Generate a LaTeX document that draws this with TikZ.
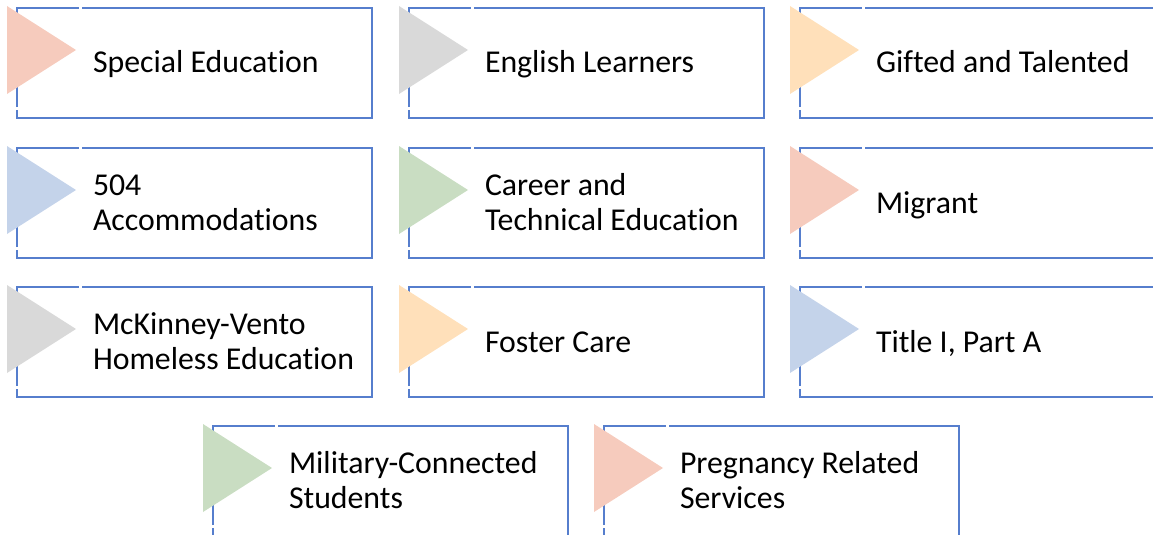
\documentclass[tikz,border=0pt]{standalone}
\usepackage{fontspec}
\setmainfont{Carlito}[Ligatures=NoCommon]
\usetikzlibrary{calc}

\definecolor{trisalmon}{RGB}{246,203,189}
\definecolor{trigray}{RGB}{217,217,217}
\definecolor{tripeach}{RGB}{255,224,186}
\definecolor{triblue}{RGB}{196,211,234}
\definecolor{trigreen}{RGB}{201,221,194}
\definecolor{frameblue}{RGB}{86,126,205}

\tikzset{
  slot/.style={rectangle, minimum width=355pt, minimum height=110pt, inner sep=0pt, outer sep=0pt},
  frame/.style={draw=frameblue, line width=1.1pt},
  caption/.style={inner sep=0pt, outer sep=0pt, font=\fontsize{31.8}{35}\selectfont, text=black},
}

% #1 name, #2 left, #3 top, #4 chevron colour, #5 text, #6 offset of the first baseline
\newcommand\program[6]{%
  \node[slot] (#1) at (#2+177.5, #3+55) {};
  \draw[frame] ($(#1.north west)+(65,0)$) -- (#1.north east) -- (#1.south east)
               -- (#1.south west) -- ($(#1.north west)+(0,102)$);
  \draw[frame] ($(#1.north west)+(0,99)$) -- (#1.north west) -- ($(#1.north west)+(62,0)$);
  \fill[#4] ($(#1.north west)+(-10,-2)$) -- ($(#1.north west)+(59,42)$)
            -- ($(#1.north west)+(-10,86)$) -- cycle;
  \node[caption, anchor=base west] (#1-text) at ($(#1.north west)+(76,#6)$)
       {\begin{tabular}[t]{@{}l@{}}#5\end{tabular}};
}

\begin{document}
\begin{tikzpicture}[x=1pt, y=-1pt]
  \useasboundingbox (0,0) rectangle (1153,535);
  \clip (0,0) rectangle (1153,535);

  \program{sped}{17}{8}{trisalmon}{Special Education}{65}
  \program{el}{409}{8}{trigray}{English Learners}{65}
  \program{gt}{800}{8}{tripeach}{Gifted and Talented}{65}

  \program{accom}{17}{148}{triblue}{504\\Accommodations}{47.5}
  \program{cte}{409}{148}{trigreen}{Career and\\Technical Education}{47.5}
  \program{migrant}{800}{148}{trisalmon}{Migrant}{65}

  \program{mv}{17}{287}{trigray}{McKinney-Vento\\Homeless Education}{47.5}
  \program{foster}{409}{287}{tripeach}{Foster Care}{65}
  \program{title}{800}{287}{triblue}{Title I, Part A}{65}

  \program{military}{213}{426}{trigreen}{Military-Connected\\Students}{47.5}
  \program{pregnancy}{604}{426}{trisalmon}{Pregnancy Related\\Services}{47.5}
\end{tikzpicture}
\end{document}
